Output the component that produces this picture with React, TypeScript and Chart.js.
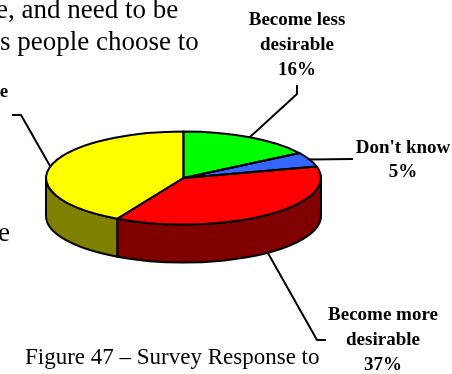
import React, { useEffect, useRef } from "react";
import { Chart, registerables } from "chart.js";

Chart.register(...registerables);

const categories = ["Become less desirable", "Don't know", "Become more desirable", "Unchanged"];
const shares = [16, 5, 37, 42];
const topColors = ["#00ff00", "#3366ff", "#ff0000", "#ffff00"];
const wallColors = ["#008000", "#1a3380", "#800000", "#808000"];

// Callout text per slice, as drawn next to the pie.
const calloutLines = [
  ["Become less", "desirable", "16%"],
  ["Don't know", "5%"],
  ["Become more", "desirable", "37%"],
  ["e"],
];

// Surrounding document text that runs past the figure's edges.
const bodyLines = ["e, and need to be", "s people choose to", "e"];
const captionText = "Figure 47 \u2013 Survey Response to";

const WIDTH = 452;
const HEIGHT = 374;
const SQUASH = 46.5 / 137.5;
const DEPTH = 38;
const OUTLINE = 2;
const SERIF = '"Liberation Serif", "Times New Roman", serif';

const calloutLayout = [
  { x: 297, ys: [25, 50, 75], elbow: [[297, 94], [297, 85]], onWall: false },
  { x: 403, ys: [153, 177], elbow: [[353, 159]], onWall: false },
  { x: 383, ys: [320, 345, 370], elbow: [[317, 340], [326, 340]], onWall: true },
  { x: 4, ys: [97], elbow: [[21, 115], [12, 115]], onWall: false },
];
const bodyLayout = [
  { x: -4, y: 18 },
  { x: 0, y: 50 },
  { x: -2, y: 241 },
];

const pseudoPie = {
  id: "pseudoPie",
  beforeDatasetsDraw(chart: any) {
    const { ctx } = chart;
    const arcs = chart.getDatasetMeta(0).data;
    ctx.save();
    ctx.lineWidth = OUTLINE;
    ctx.strokeStyle = "#000";
    ctx.lineJoin = "round";
    arcs.forEach((arc: any, i: number) => {
      // Only the part of a slice on the near half of the rim shows a wall.
      const a = Math.max(arc.startAngle, 0);
      const b = Math.min(arc.endAngle, Math.PI);
      if (b <= a) return;
      const rx = arc.outerRadius;
      const ry = rx * SQUASH;
      ctx.beginPath();
      ctx.ellipse(arc.x, arc.y, rx, ry, 0, a, b);
      ctx.ellipse(arc.x, arc.y + DEPTH, rx, ry, 0, b, a, true);
      ctx.closePath();
      ctx.fillStyle = wallColors[i];
      ctx.fill();
      ctx.stroke();
    });
    ctx.restore();
  },
  beforeDatasetDraw(chart: any) {
    const { ctx } = chart;
    const arc = chart.getDatasetMeta(0).data[0];
    ctx.save();
    ctx.translate(arc.x, arc.y);
    ctx.scale(1, SQUASH);
    ctx.translate(-arc.x, -arc.y);
  },
  afterDatasetDraw(chart: any) {
    chart.ctx.restore();
  },
  afterDatasetsDraw(chart: any) {
    const { ctx } = chart;
    const arcs = chart.getDatasetMeta(0).data;
    ctx.save();
    ctx.lineWidth = OUTLINE;
    ctx.strokeStyle = "#000";
    ctx.lineJoin = "round";

    // Slice outlines are stroked here so the pen stays round on the flattened face.
    arcs.forEach((arc: any) => {
      const rx = arc.outerRadius;
      ctx.beginPath();
      ctx.moveTo(arc.x, arc.y);
      ctx.ellipse(arc.x, arc.y, rx, rx * SQUASH, 0, arc.startAngle, arc.endAngle);
      ctx.closePath();
      ctx.stroke();
    });

    // Leader lines start on the rim at each slice's middle angle.
    arcs.forEach((arc: any, i: number) => {
      const mid = (arc.startAngle + arc.endAngle) / 2;
      const layout = calloutLayout[i];
      const sx = arc.x + arc.outerRadius * Math.cos(mid);
      const sy = arc.y + arc.outerRadius * SQUASH * Math.sin(mid) + (layout.onWall ? DEPTH : 0);
      ctx.beginPath();
      ctx.moveTo(sx, sy);
      layout.elbow.forEach(([x, y]) => ctx.lineTo(x, y));
      ctx.stroke();
    });

    ctx.fillStyle = "#000";
    ctx.textAlign = "center";
    ctx.textBaseline = "alphabetic";
    ctx.font = `bold 19px ${SERIF}`;
    calloutLines.forEach((lines, i) => {
      lines.forEach((line, j) => {
        ctx.fillText(line, calloutLayout[i].x, calloutLayout[i].ys[j]);
      });
    });

    ctx.textAlign = "left";
    ctx.font = `27px ${SERIF}`;
    bodyLines.forEach((line, i) => ctx.fillText(line, bodyLayout[i].x, bodyLayout[i].y));
    ctx.font = `23px ${SERIF}`;
    ctx.fillText(captionText, 25, 364);
    ctx.restore();
  },
};

export default function App() {
  const canvasRef = useRef<HTMLCanvasElement | null>(null);

  useEffect(() => {
    const chart = new Chart(canvasRef.current as HTMLCanvasElement, {
      type: "pie",
      data: {
        labels: categories,
        datasets: [{ data: shares, backgroundColor: topColors, borderWidth: 0 }],
      },
      options: {
        animation: false,
        responsive: false,
        layout: { padding: { left: 46, right: 131, top: 40.5, bottom: 58.5 } },
        plugins: { legend: { display: false }, tooltip: { enabled: false } },
      },
      plugins: [pseudoPie],
    } as any);
    return () => chart.destroy();
  }, []);

  return (
    <div style={{ position: "absolute", left: 0, top: 0, width: WIDTH, height: HEIGHT, background: "#fff" }}>
      <canvas ref={canvasRef} width={WIDTH} height={HEIGHT} style={{ display: "block" }} />
    </div>
  );
}
